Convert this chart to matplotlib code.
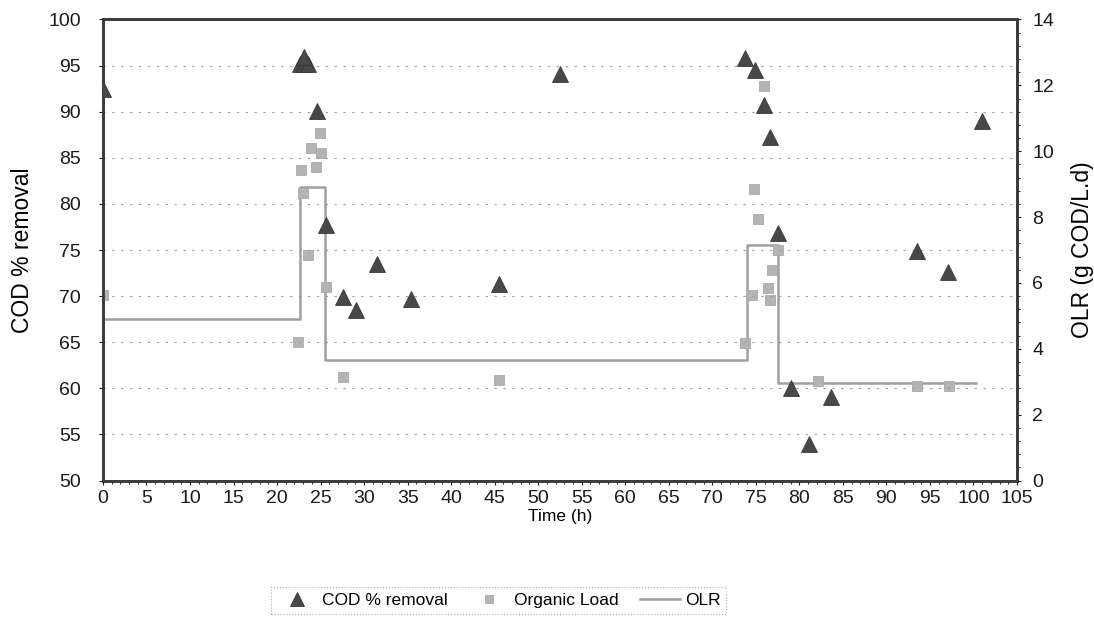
import matplotlib.pyplot as plt
from matplotlib.ticker import MultipleLocator

plt.rcParams['font.family'] = ['Liberation Sans', 'DejaVu Sans']

# COD % removal (left axis)
cod_time = [0, 22.6, 23.1, 23.6, 23.1, 24.6, 25.6, 27.6, 29.1, 31.5, 35.4, 45.5, 52.5,
            73.7, 74.9, 75.9, 76.6, 77.5, 79.0, 81.1, 83.6, 93.5, 97.1, 101.0]
cod_removal = [92.5, 95.2, 95.2, 95.2, 95.9, 90.1, 77.7, 69.9, 68.5, 73.5, 69.7, 71.3, 94.1,
               95.8, 94.5, 90.7, 87.3, 76.8, 60.0, 54.0, 59.1, 74.9, 72.6, 89.0]

# Organic load (right axis)
load_time = [0, 22.4, 22.8, 23.0, 23.6, 23.9, 24.5, 24.9, 25.1, 25.6, 27.6, 45.5,
             73.8, 74.6, 74.8, 75.3, 75.9, 76.4, 76.6, 76.9, 77.5, 82.1, 93.5, 97.2]
organic_load = [5.63, 4.22, 9.43, 8.72, 6.85, 10.09, 9.53, 10.54, 9.95, 5.89, 3.15, 3.05,
                4.18, 5.63, 8.85, 7.94, 11.99, 5.84, 5.48, 6.39, 7.0, 3.03, 2.87, 2.87]

# OLR step profile (right axis)
olr_time = [0, 22.6, 22.6, 25.5, 25.5, 74.0, 74.0, 77.6, 77.6, 100.3]
olr_value = [4.9, 4.9, 8.9, 8.9, 3.66, 3.66, 7.15, 7.15, 2.95, 2.95]

fig = plt.figure(figsize=(10.94, 6.19), dpi=100)
ax = fig.add_axes([0.0941, 0.2237, 0.8355, 0.7448])
ax2 = ax.twinx()

dark = '#3c3c3c'
light = '#b4b4b4'

tri, = ax.plot(cod_time, cod_removal, linestyle='none', marker='^', markersize=12,
               color='#484848', markeredgecolor='#383838', markeredgewidth=0.6,
               label='COD % removal', zorder=5)
sq, = ax2.plot(load_time, organic_load, linestyle='none', marker='s', markersize=7,
               color=light, markeredgecolor='#a8a8a8', markeredgewidth=0.6,
               label='Organic Load', zorder=4)
ln, = ax2.plot(olr_time, olr_value, color='#a0a0a0', linewidth=1.8, label='OLR', zorder=3)

ax.set_zorder(ax2.get_zorder() + 1)
ax.patch.set_visible(False)

ax.set_xlim(0, 105)
ax.set_ylim(50, 100)
ax2.set_ylim(0, 14)

ax.xaxis.set_major_locator(MultipleLocator(5))
ax.xaxis.set_minor_locator(MultipleLocator(1))
ax.yaxis.set_major_locator(MultipleLocator(5))
ax2.yaxis.set_major_locator(MultipleLocator(2))
ax2.yaxis.set_minor_locator(MultipleLocator(0.4))

ax.grid(axis='y', which='major', color='#9a9a9a', linestyle=(0, (2, 6)), linewidth=0.8)

for a in (ax, ax2):
    for s in a.spines.values():
        s.set_color(dark)
        s.set_linewidth(2)
    a.tick_params(labelsize=14, colors='#1a1a1a', length=3, width=0.8)
    a.tick_params(which='minor', length=2, width=0.6)
ax.tick_params(axis='y', pad=13)
ax2.tick_params(axis='y', pad=8)
ax.tick_params(axis='x', pad=4)

ax.set_xlabel('Time (h)', fontsize=12.5, labelpad=1)
ax.set_ylabel('COD % removal', fontsize=16.5, labelpad=10)
ax2.set_ylabel('OLR (g COD/L.d)', fontsize=16.5, labelpad=12)

leg = fig.legend(handles=[tri, sq, ln], loc='center', bbox_to_anchor=(0.456, 0.03),
                 ncol=3, fontsize=12.5, frameon=True, fancybox=False,
                 handlelength=2.3, columnspacing=1.2, handletextpad=0.3,
                 borderpad=0.35, markerscale=0.8)
leg.get_frame().set_edgecolor('#9a9a9a')
leg.get_frame().set_linestyle(':')
leg.get_frame().set_linewidth(0.8)

fig.savefig('out.png', dpi=100)
